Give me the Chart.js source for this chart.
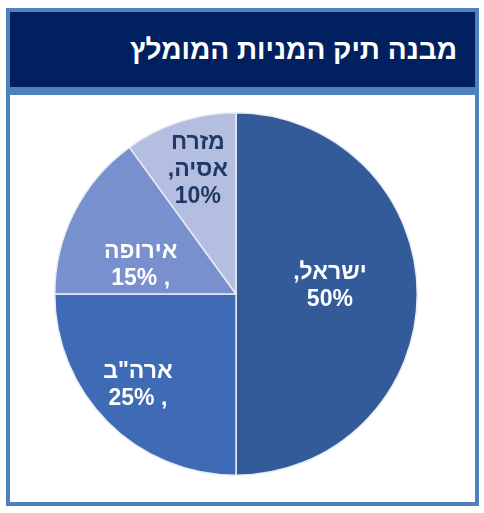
<!DOCTYPE html>
<html lang="he">
<head>
<meta charset="utf-8">
<script src="https://cdn.jsdelivr.net/npm/chart.js@4/dist/chart.umd.min.js"></script>
<style>
  html, body { margin: 0; padding: 0; background: #fff; }
  body { width: 484px; height: 513px; position: relative; overflow: hidden; font-family: "Liberation Sans", Arial, sans-serif; }
  #frame { position: absolute; left: 6px; top: 8px; width: 465px; height: 490px; border: 4px solid #4f81bd; background: #fff; }
  #head { height: 75px; background: #002060; border-bottom: 8px solid #4f81bd; color: #fff; direction: rtl; text-align: right;
          font-weight: bold; font-size: 28px; line-height: 75px; padding-right: 18px; box-sizing: content-box; }
  #box { position: relative; width: 465px; height: 407px; }
</style>
</head>
<body>
<div id="frame">
  <div id="head">מבנה תיק המניות המומלץ</div>
  <div id="box"><canvas id="c"></canvas></div>
</div>
<script>
const categories = ['ישראל', 'ארה"ב', 'אירופה', 'מזרח אסיה']
const shares = [50, 25, 15, 10]
const labelLines = [
  ['ישראל,', '50%'],
  ['ארה"ב', '25% ,'],
  ['אירופה', '15% ,'],
  ['מזרח', 'אסיה,', '10%']
]
const sliceColors = ['#335a99', '#3f6ab6', '#7990cf', '#b3bee0']
const textColors = ['#ffffff', '#ffffff', '#ffffff', '#1f3864']
// where to put each label: fraction of radius, and angle tweak in degrees
const labelPlace = [
  { r: 0.52, da: -5 },
  { r: 0.74, da: 2 },
  { r: 0.55, da: -10 },
  { r: 0.72, da: 1 }
]

const sliceLabels = {
  id: 'sliceLabels',
  afterDatasetsDraw(chart) {
    const ctx = chart.ctx
    const arcs = chart.getDatasetMeta(0).data
    arcs.forEach((arc, i) => {
      const p = arc.getProps(['x', 'y', 'startAngle', 'endAngle', 'outerRadius'], true)
      const a = (p.startAngle + p.endAngle) / 2 + labelPlace[i].da * Math.PI / 180
      const rr = p.outerRadius * labelPlace[i].r
      const cx = p.x + Math.cos(a) * rr
      const cy = p.y + Math.sin(a) * rr
      const lines = labelLines[i]
      const lh = 27
      ctx.save()
      ctx.font = 'bold 23px "Liberation Sans", Arial, sans-serif'
      ctx.fillStyle = textColors[i]
      ctx.textAlign = 'center'
      ctx.textBaseline = 'middle'
      lines.forEach((t, k) => {
        ctx.direction = /[\u0590-\u05ff]/.test(t) ? 'rtl' : 'ltr'
        ctx.fillText(t, cx, cy + (k - (lines.length - 1) / 2) * lh)
      })
      ctx.restore()
    })
  }
}

new Chart(document.getElementById('c'), {
  type: 'pie',
  data: {
    labels: categories,
    datasets: [{ data: shares, backgroundColor: sliceColors, borderColor: '#e8ecf4', borderWidth: 1.5 }]
  },
  options: {
    responsive: true,
    maintainAspectRatio: false,
    animation: false,
    layout: { padding: { top: 17, bottom: 26, left: 20, right: 33 } },
    plugins: { legend: { display: false }, tooltip: { enabled: false } }
  },
  plugins: [sliceLabels]
})
</script>
</body>
</html>
